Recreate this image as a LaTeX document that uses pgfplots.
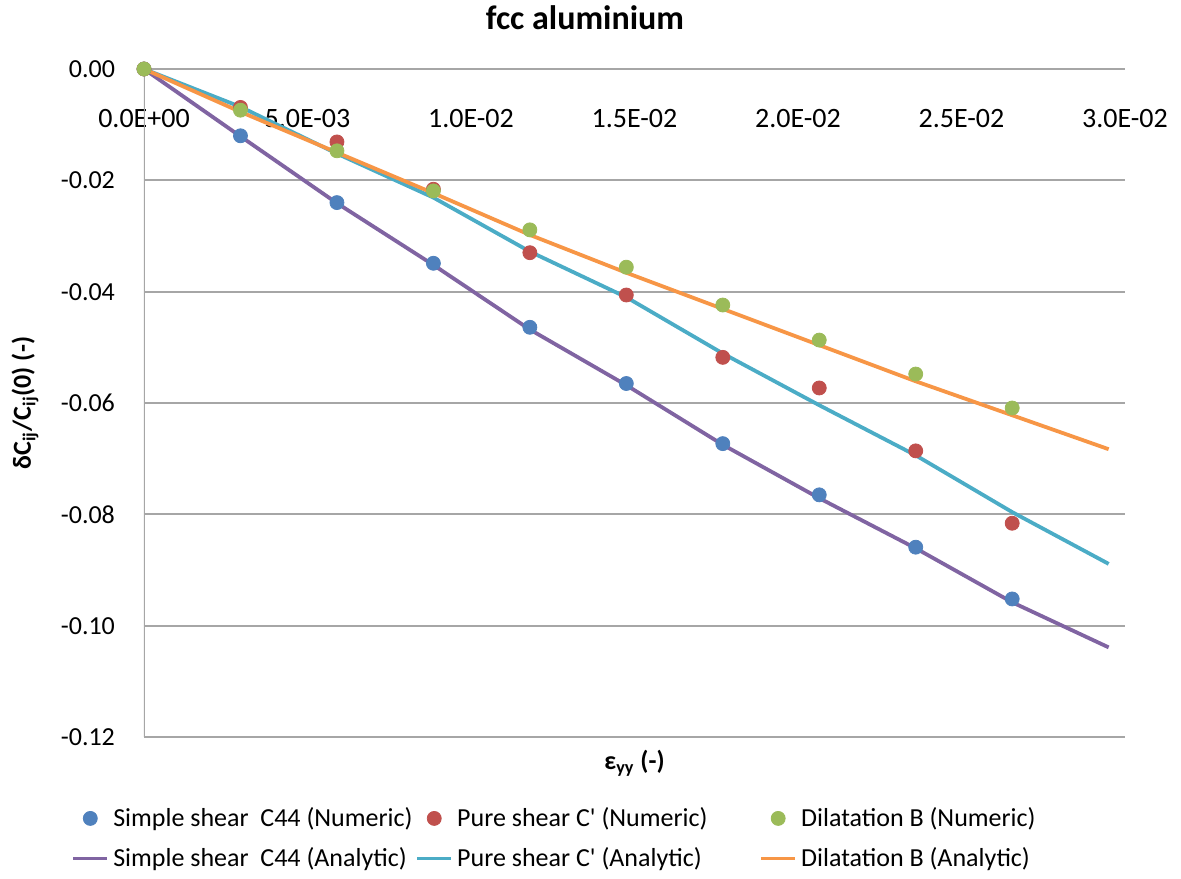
\documentclass[border=0pt]{standalone}
\usepackage{fontspec}
\setmainfont{Carlito}
\usepackage{pgfplots}
\pgfplotsset{compat=1.18}
\definecolor{cblue}{HTML}{4F81BD}
\definecolor{cred}{HTML}{C0504D}
\definecolor{cgreen}{HTML}{9BBB59}
\definecolor{cpurple}{HTML}{8064A2}
\definecolor{ccyan}{HTML}{4BACC6}
\definecolor{corange}{HTML}{F79646}
\definecolor{gridgray}{HTML}{A6A6A6}
\begin{document}
\begin{tikzpicture}
\begin{axis}[
  name=ax, scale only axis, width=490.5pt, height=334pt,
  xmin=0, xmax=0.03, ymin=-0.12, ymax=0,
  scaled x ticks=false, scaled y ticks=false,
  axis line style={draw=none},
  xtick={0,0.005,0.01,0.015,0.02,0.025,0.03},
  xticklabels={0.0E+00,5.0E-03,1.0E-02,1.5E-02,2.0E-02,2.5E-02,3.0E-02},
  ytick={-0.12,-0.10,-0.08,-0.06,-0.04,-0.02,0},
  yticklabels={-0.12,-0.10,-0.08,-0.06,-0.04,-0.02,0.00},
  major tick length=0pt,
  ymajorgrids, grid style={draw=gridgray, line width=1pt},
  xticklabel pos=upper,
  xticklabel style={anchor=center, yshift=-25pt, font=\fontsize{14}{16.8}\selectfont},
  yticklabel style={xshift=-11pt, font=\fontsize{13}{15.6}\selectfont},
  every axis title shift=0pt,
  title={fcc aluminium},
  title style={at={(axis description cs:0.4495,1.0771)}, anchor=center, yshift=0pt, font=\bfseries\fontsize{17}{20}\selectfont},
  xlabel={ε\textsubscript{yy} (-)},
  xlabel style={at={(axis description cs:0.5,-0.0389)}, anchor=center, font=\bfseries\fontsize{13}{15.6}\selectfont},
  ylabel={δC\textsubscript{ij}/C\textsubscript{ij}(0) (-)},
  ylabel style={at={(axis description cs:-0.1213,0.5)}, anchor=center, font=\bfseries\fontsize{13}{15.6}\selectfont},
  legend columns=3,
  legend style={at={(axis description cs:-0.0806,-0.0928)}, anchor=north west, draw=none,
    font=\fontsize{13}{15.6}\selectfont, column sep=0pt, row sep=5pt},
  legend cell align=left,
]
\addplot[only marks, mark=*, mark size=3.5pt, mark options={draw=cblue, fill=cblue}] coordinates {
(0,0) (0.00295,-0.0120) (0.0059,-0.0240) (0.00885,-0.0349) (0.0118,-0.0464) (0.01475,-0.0565) (0.0177,-0.0673) (0.02065,-0.0765) (0.0236,-0.0859) (0.02655,-0.0952)};
\addlegendentry{\makebox[149pt][l]{Simple shear \ C44 (Numeric)}}
\addplot[only marks, mark=*, mark size=3.5pt, mark options={draw=cred, fill=cred}] coordinates {
(0,0) (0.00295,-0.0069) (0.0059,-0.0131) (0.00885,-0.0216) (0.0118,-0.0330) (0.01475,-0.0406) (0.0177,-0.0518) (0.02065,-0.0573) (0.0236,-0.0686) (0.02655,-0.0816)};
\addlegendentry{\makebox[149pt][l]{Pure shear C\textquotesingle{} (Numeric)}}
\addplot[only marks, mark=*, mark size=3.5pt, mark options={draw=cgreen, fill=cgreen}] coordinates {
(0,0) (0.00295,-0.0074) (0.0059,-0.0147) (0.00885,-0.0219) (0.0118,-0.0289) (0.01475,-0.0356) (0.0177,-0.0424) (0.02065,-0.0487) (0.0236,-0.0548) (0.02655,-0.0609)};
\addlegendentry{Dilatation B (Numeric)}
\addplot[no markers, draw=cpurple, line width=1.9pt] coordinates {
(0,0) (0.00295,-0.0121) (0.0059,-0.0241) (0.00885,-0.0352) (0.0118,-0.0468) (0.01475,-0.0568) (0.0177,-0.0675) (0.02065,-0.0771) (0.0236,-0.0861) (0.02655,-0.0958) (0.0295,-0.1039)};
\addlegendentry{\makebox[149pt][l]{Simple shear \ C44 (Analytic)}}
\addplot[no markers, draw=ccyan, line width=1.9pt] coordinates {
(0,0) (0.00295,-0.0068) (0.0059,-0.0152) (0.00885,-0.0231) (0.0118,-0.0328) (0.01475,-0.0410) (0.0177,-0.0511) (0.02065,-0.0604) (0.0236,-0.0694) (0.02655,-0.0796) (0.0295,-0.0889)};
\addlegendentry{\makebox[149pt][l]{Pure shear C\textquotesingle{} (Analytic)}}
\addplot[no markers, draw=corange, line width=1.9pt] coordinates {
(0,0) (0.00295,-0.0077) (0.0059,-0.0150) (0.00885,-0.0223) (0.0118,-0.0298) (0.01475,-0.0366) (0.0177,-0.0431) (0.02065,-0.0496) (0.0236,-0.0561) (0.02655,-0.0622) (0.0295,-0.0683)};
\addlegendentry{Dilatation B (Analytic)}
\draw[gridgray, line width=1pt] (axis cs:0,0) -- (axis cs:0,-0.12);
\end{axis}
\pgfresetboundingbox
\path[use as bounding box] ([xshift=-72pt,yshift=-70.5pt]ax.south west) rectangle ([xshift=28pt,yshift=34.5pt]ax.north east);
\end{tikzpicture}
\end{document}
